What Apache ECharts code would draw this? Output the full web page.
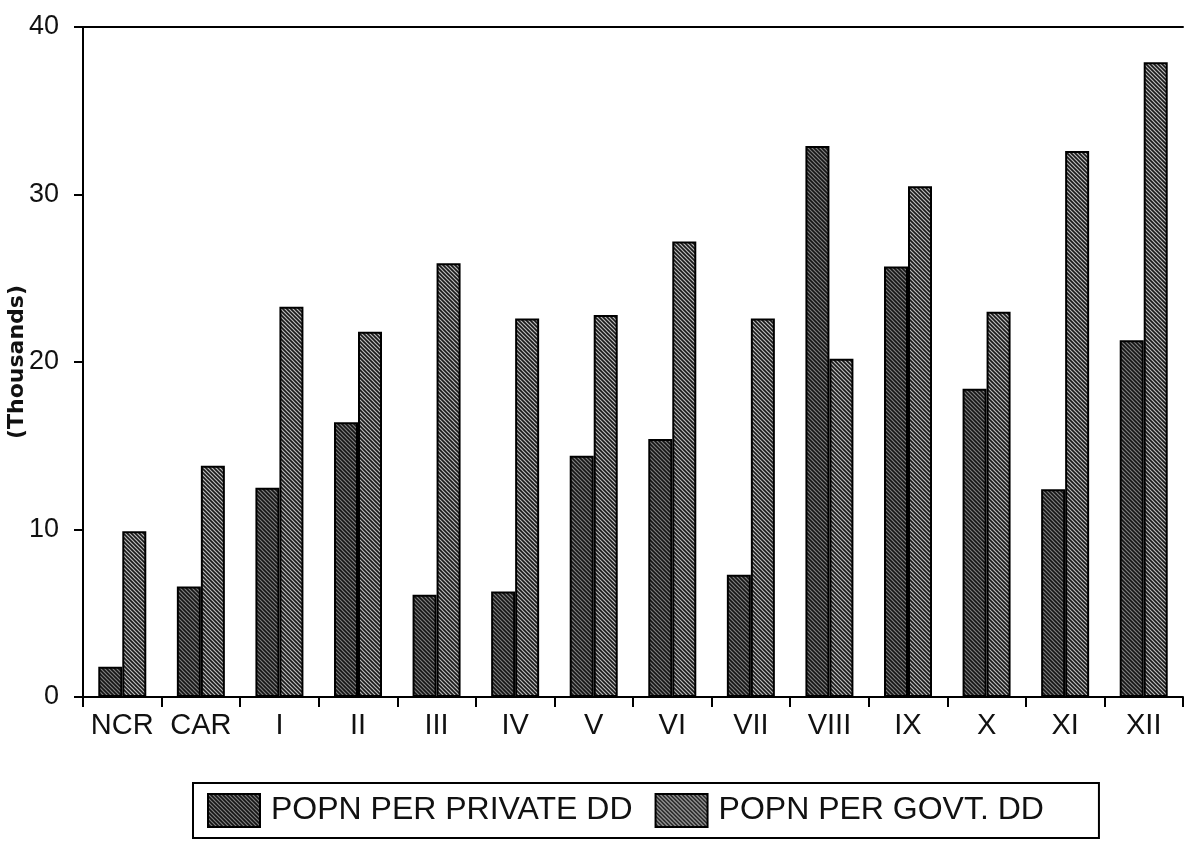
<!DOCTYPE html>
<html>
<head>
<meta charset="utf-8">
<script src="https://cdn.jsdelivr.net/npm/echarts@6/dist/echarts.min.js"></script>
<style>
  html, body { margin: 0; padding: 0; background: #fff; }
  #main { width: 1187px; height: 841px; }
</style>
</head>
<body>
<div id="main"></div>
<script>
// regions
var regions = ['NCR', 'CAR', 'I', 'II', 'III', 'IV', 'V', 'VI', 'VII', 'VIII', 'IX', 'X', 'XI', 'XII'];
// population per dentist, thousands
var privateDD = [1.8, 6.6, 12.5, 16.4, 6.1, 6.3, 14.4, 15.4, 7.3, 32.9, 25.7, 18.4, 12.4, 21.3];
var govtDD = [9.9, 13.8, 23.3, 21.8, 25.9, 22.6, 22.8, 27.2, 22.6, 20.2, 30.5, 23.0, 32.6, 37.9];
var yTicks = [0, 10, 20, 30, 40];

var font = 'Liberation Sans, Arial, sans-serif';

var myChart = echarts.init(document.getElementById('main'));

// hatch pattern ( \\\ ) drawn on a small canvas
function hatch(bg, fg, step, lw) {
    var c = document.createElement('canvas');
    c.width = step; c.height = step;
    var ctx = c.getContext('2d');
    ctx.fillStyle = bg;
    ctx.fillRect(0, 0, step, step);
    ctx.strokeStyle = fg;
    ctx.lineWidth = lw;
    ctx.beginPath();
    ctx.moveTo(-1, -1); ctx.lineTo(step + 1, step + 1);
    ctx.moveTo(-1, step - 1); ctx.lineTo(1, step + 1);
    ctx.moveTo(step - 1, -1); ctx.lineTo(step + 1, 1);
    ctx.stroke();
    return { image: c, repeat: 'repeat' };
}

myChart.setOption({
    backgroundColor: '#fff',
    animation: false,
    grid: { left: 83, right: 4, top: 27, bottom: 144, containLabel: false, outerBoundsMode: 'none' },
    legend: {
        bottom: 3,
        left: 193,
        icon: 'rect',
        itemWidth: 52,
        itemHeight: 33,
        itemGap: 22,
        padding: [10, 55, 10, 14],
        borderColor: '#000',
        borderWidth: 2,
        textStyle: { fontFamily: font, fontSize: 32, color: '#111', padding: [0, 0, 0, 6] },
        data: ['POPN PER PRIVATE DD', 'POPN PER GOVT. DD']
    },
    xAxis: [{
        type: 'category',
        data: regions,
        axisLine: { lineStyle: { color: '#000', width: 2 } },
        axisTick: { show: true, interval: 0, length: 10, lineStyle: { color: '#000', width: 2 } },
        axisLabel: { interval: 0, fontFamily: font, fontSize: 29, color: '#111', margin: 14 }
    }, {
        type: 'category',
        position: 'top',
        data: regions,
        axisLine: { lineStyle: { color: '#000', width: 2 } },
        axisTick: { show: false },
        axisLabel: { show: false }
    }],
    yAxis: {
        type: 'value',
        min: yTicks[0],
        max: yTicks[yTicks.length - 1],
        interval: 10,
        name: '(Thousands)',
        nameLocation: 'middle',
        nameGap: 55,
        nameMoveOverlap: false,
        nameTextStyle: { fontFamily: 'DejaVu Sans, sans-serif', fontSize: 22, fontWeight: 'bold', color: '#111' },
        axisLine: { show: true, lineStyle: { color: '#000', width: 2 } },
        axisTick: { show: true, length: 9, lineStyle: { color: '#000', width: 2 } },
        axisLabel: { fontFamily: font, fontSize: 27, color: '#111', margin: 24 },
        splitLine: { show: false }
    },
    series: [{
        name: 'POPN PER PRIVATE DD',
        type: 'bar',
        data: privateDD,
        barWidth: 24,
        barGap: '0%',
        itemStyle: { color: hatch('#151515', '#808080', 4, 1.2), borderColor: '#000', borderWidth: 2 }
    }, {
        name: 'POPN PER GOVT. DD',
        type: 'bar',
        data: govtDD,
        barWidth: 24,
        itemStyle: { color: hatch('#1a1a1a', '#bdbdbd', 4, 1.2), borderColor: '#000', borderWidth: 2 }
    }]
});
</script>
</body>
</html>
